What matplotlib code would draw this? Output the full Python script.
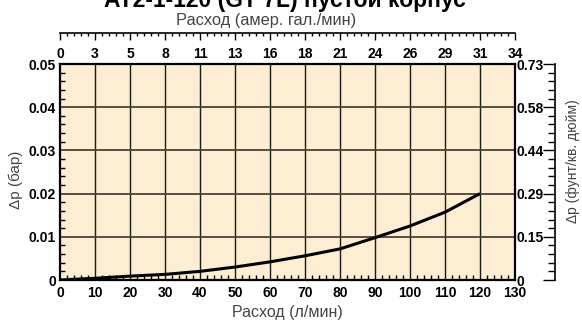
import matplotlib
matplotlib.use("Agg")
import matplotlib.pyplot as plt
from matplotlib.ticker import MultipleLocator, FixedLocator

plt.rcParams['font.family'] = ['Liberation Sans', 'DejaVu Sans']

# ---- data ----
flow_lpm = [0, 10, 20, 30, 40, 50, 60, 70, 80, 90, 100, 110, 120]
dp_bar = [0, 0.0004, 0.0009, 0.0013, 0.0020, 0.0030, 0.0042, 0.0056, 0.0072,
          0.0098, 0.0125, 0.0157, 0.0200]
x_ticks = [0, 10, 20, 30, 40, 50, 60, 70, 80, 90, 100, 110, 120, 130]
gal_labels = ['0', '3', '5', '8', '11', '13', '16', '18', '21', '24', '26', '29', '31', '34']
y_ticks = [0, 0.01, 0.02, 0.03, 0.04, 0.05]
y_labels = ['0', '0.01', '0.02', '0.03', '0.04', '0.05']
psi_labels = ['0', '0.15', '0.29', '0.44', '0.58', '0.73']

title = 'AT2-1-120 (GT 7L) пустой корпус'
xlabel_bottom = 'Расход (л/мин)'
xlabel_top = 'Расход (амер. гал./мин)'
ylabel_left = 'Δp (бар)'
ylabel_right = 'Δp (фунт/кв. дюйм)'

W, H = 582, 322
fig = plt.figure(figsize=(W / 100, H / 100), dpi=100)
fig.patch.set_facecolor('white')

L, R, T, B = 60, 515, 64, 280
ax = fig.add_axes([L / W, 1 - B / H, (R - L) / W, (B - T) / H])
ax.set_facecolor('#FDEDD3')
ax.set_xlim(0, 130)
ax.set_ylim(0, 0.05)

tick_font = dict(fontsize=10, fontweight='bold', color='black')
lab_col = '#444444'

# grid
for x in x_ticks[1:-1]:
    ax.axvline(x, color='#1a1a1a', lw=1.0, zorder=1)
for y in y_ticks[1:-1]:
    ax.axhline(y, color='#4a4236', lw=1.3, zorder=1)

ax.plot(flow_lpm, dp_bar, color='black', lw=2.2, zorder=3, solid_capstyle='butt')

for s in ax.spines.values():
    s.set_linewidth(1.6)
    s.set_color('black')

ax.set_xticks(x_ticks)
ax.set_xticklabels([str(v) for v in x_ticks], **tick_font)
ax.set_yticks(y_ticks)
ax.set_yticklabels(y_labels, **tick_font)
ax.xaxis.set_minor_locator(MultipleLocator(2))
ax.yaxis.set_minor_locator(MultipleLocator(0.002))
ax.tick_params(which='major', length=0, pad=4)
ax.tick_params(axis='y', which='major', pad=3)
ax.tick_params(which='minor', direction='in', length=3.5, width=1.0, color='black')
ax.set_xlabel(xlabel_bottom, fontsize=11.5, color=lab_col, labelpad=4)

# top labels (gallons) directly above plot
axt = ax.twiny()
axt.set_xlim(ax.get_xlim())
axt.set_xticks(x_ticks)
axt.set_xticklabels(gal_labels, **tick_font)
axt.tick_params(which='major', length=0, pad=2)
for s in axt.spines.values():
    s.set_visible(False)

# offset top scale line
axt2 = ax.twiny()
axt2.set_xlim(ax.get_xlim())
for k, s in axt2.spines.items():
    s.set_visible(k == 'top')
axt2.spines['top'].set_position(('outward', 22.5))
axt2.spines['top'].set_linewidth(1.2)
axt2.xaxis.set_major_locator(FixedLocator(x_ticks))
axt2.xaxis.set_minor_locator(MultipleLocator(2))
axt2.tick_params(which='major', direction='in', length=5, width=1.0, labeltop=False)
axt2.tick_params(which='minor', direction='in', length=2.5, width=1.0)

# right labels (psi) directly beside plot
axr = ax.twinx()
axr.set_ylim(ax.get_ylim())
axr.set_yticks(y_ticks)
axr.set_yticklabels(psi_labels, **tick_font)
axr.tick_params(which='major', length=0, pad=1)
for s in axr.spines.values():
    s.set_visible(False)

# offset right scale line
axr2 = ax.twinx()
axr2.set_ylim(ax.get_ylim())
for k, s in axr2.spines.items():
    s.set_visible(k == 'right')
axr2.spines['right'].set_position(('outward', 29))
axr2.spines['right'].set_linewidth(1.2)
axr2.yaxis.set_major_locator(FixedLocator(y_ticks))
axr2.yaxis.set_minor_locator(MultipleLocator(0.002))
axr2.tick_params(which='major', direction='in', length=8.5, width=1.0, labelright=False)
axr2.tick_params(which='minor', direction='in', length=5, width=1.0)

fig.text(16 / W, 1 - 180 / H, ylabel_left, fontsize=11, color=lab_col,
         rotation=90, ha='center', va='center')
fig.text(573 / W, 1 - 161 / H, ylabel_right, fontsize=10, color=lab_col,
         rotation=90, ha='center', va='center')
fig.text(266 / W, 1 - 20 / H, xlabel_top, fontsize=11.8, color=lab_col,
         ha='center', va='center')
fig.text(285 / W, 1 - 7 / H, title, fontsize=16.5, fontweight='bold',
         ha='center', va='baseline')

fig.savefig('out.png', dpi=100)
